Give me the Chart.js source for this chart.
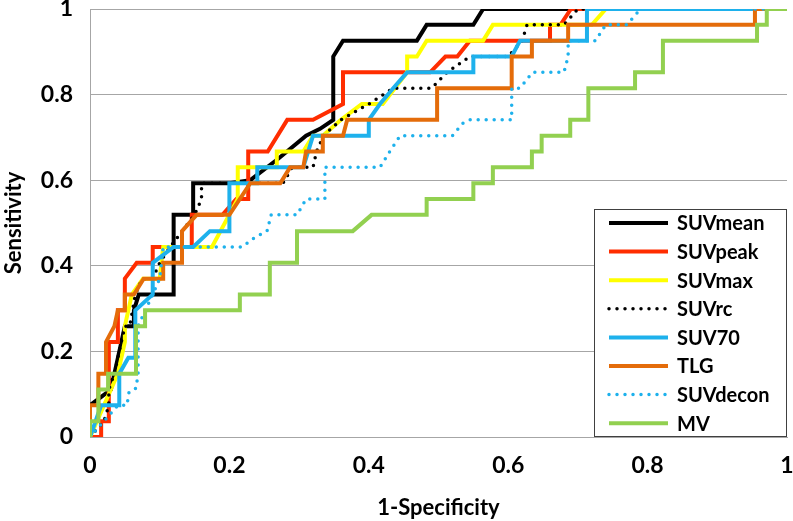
<!DOCTYPE html>
<html>
<head>
<meta charset="utf-8">
<script src="https://cdn.jsdelivr.net/npm/chart.js@4"></script>
<style>
  body { margin: 0; background: #fff; }
  #roc { display: block; }
</style>
</head>
<body>
<canvas id="roc" width="793" height="521"></canvas>
<script>
// curve names, in legend order
const seriesNames = ['SUVmean', 'SUVpeak', 'SUVmax', 'SUVrc', 'SUV70', 'TLG', 'SUVdecon', 'MV'];
const xTicks = [0, 0.2, 0.4, 0.6, 0.8, 1];
const yTicks = [0, 0.2, 0.4, 0.6, 0.8, 1];

// 1-specificity / sensitivity pairs
const suvmeanX = [0, 0, 0.03, 0.04, 0.05, 0.063, 0.063, 0.07, 0.12, 0.12, 0.148, 0.148, 0.2, 0.23, 0.27, 0.31, 0.33, 0.349, 0.349, 0.363, 0.469, 0.483, 0.55, 0.564, 1];
const suvmeanY = [0, 0.074, 0.111, 0.185, 0.259, 0.259, 0.296, 0.333, 0.333, 0.519, 0.519, 0.593, 0.593, 0.6, 0.65, 0.704, 0.72, 0.741, 0.889, 0.926, 0.926, 0.963, 0.963, 1, 1];

const suvpeakX = [0, 0.016, 0.016, 0.027, 0.027, 0.04, 0.04, 0.05, 0.05, 0.067, 0.09, 0.09, 0.146, 0.146, 0.19, 0.21, 0.227, 0.227, 0.255, 0.283, 0.32, 0.363, 0.363, 0.488, 0.51, 0.527, 0.545, 0.66, 0.66, 0.675, 0.69, 1];
const suvpeakY = [0, 0, 0.037, 0.037, 0.222, 0.222, 0.296, 0.296, 0.37, 0.407, 0.407, 0.444, 0.444, 0.519, 0.519, 0.556, 0.556, 0.667, 0.667, 0.741, 0.741, 0.778, 0.852, 0.852, 0.889, 0.889, 0.926, 0.926, 0.963, 0.963, 1, 1];

const suvmaxX = [0, 0.02, 0.03, 0.04, 0.05, 0.05, 0.06, 0.076, 0.1, 0.105, 0.175, 0.212, 0.212, 0.268, 0.268, 0.306, 0.32, 0.334, 0.36, 0.39, 0.42, 0.455, 0.455, 0.469, 0.483, 0.564, 0.578, 0.72, 0.74, 1];
const suvmaxY = [0, 0.074, 0.111, 0.148, 0.222, 0.259, 0.333, 0.37, 0.37, 0.444, 0.444, 0.556, 0.63, 0.63, 0.667, 0.667, 0.704, 0.704, 0.741, 0.778, 0.778, 0.852, 0.889, 0.889, 0.926, 0.926, 0.963, 0.963, 1, 1];

const suvrcX = [0, 0.02, 0.027, 0.027, 0.035, 0.04, 0.05, 0.057, 0.065, 0.075, 0.09, 0.1, 0.115, 0.15, 0.16, 0.16, 0.277, 0.29, 0.32, 0.325, 0.335, 0.36, 0.4, 0.435, 0.49, 0.512, 0.545, 0.6, 0.62, 0.627, 0.68, 0.7, 1];
const suvrcY = [0, 0.037, 0.074, 0.111, 0.148, 0.185, 0.259, 0.259, 0.333, 0.37, 0.37, 0.407, 0.444, 0.519, 0.556, 0.593, 0.593, 0.63, 0.63, 0.667, 0.704, 0.741, 0.778, 0.815, 0.815, 0.852, 0.889, 0.889, 0.926, 0.963, 0.963, 1, 1];

const suv70X = [0, 0.016, 0.042, 0.042, 0.055, 0.065, 0.065, 0.09, 0.09, 0.12, 0.148, 0.172, 0.2, 0.2, 0.24, 0.24, 0.306, 0.32, 0.4, 0.4, 0.416, 0.435, 0.455, 0.55, 0.55, 0.605, 0.617, 0.713, 0.713, 1];
const suv70Y = [0, 0.074, 0.074, 0.148, 0.185, 0.185, 0.296, 0.333, 0.407, 0.444, 0.444, 0.481, 0.481, 0.593, 0.593, 0.63, 0.63, 0.704, 0.704, 0.741, 0.778, 0.815, 0.852, 0.852, 0.889, 0.889, 0.926, 0.926, 1, 1];

const tlgX = [0, 0, 0.012, 0.012, 0.023, 0.023, 0.035, 0.04, 0.05, 0.05, 0.063, 0.077, 0.105, 0.105, 0.132, 0.132, 0.153, 0.2, 0.23, 0.273, 0.287, 0.306, 0.31, 0.334, 0.334, 0.363, 0.369, 0.498, 0.498, 0.605, 0.605, 0.634, 0.634, 0.686, 0.686, 0.954, 0.954, 1];
const tlgY = [0, 0.074, 0.074, 0.148, 0.148, 0.222, 0.259, 0.296, 0.296, 0.333, 0.333, 0.37, 0.37, 0.407, 0.407, 0.481, 0.519, 0.519, 0.593, 0.593, 0.63, 0.63, 0.667, 0.667, 0.704, 0.704, 0.741, 0.741, 0.815, 0.815, 0.889, 0.889, 0.926, 0.926, 0.963, 0.963, 1, 1];

const suvdeconX = [0, 0.04, 0.053, 0.056, 0.066, 0.069, 0.069, 0.09, 0.1, 0.105, 0.218, 0.237, 0.254, 0.26, 0.297, 0.31, 0.337, 0.337, 0.416, 0.43, 0.445, 0.52, 0.535, 0.545, 0.605, 0.605, 0.617, 0.635, 0.68, 0.686, 0.686, 0.725, 0.74, 0.77, 0.79, 1];
const suvdeconY = [0, 0.074, 0.074, 0.105, 0.114, 0.148, 0.259, 0.333, 0.37, 0.444, 0.444, 0.467, 0.481, 0.519, 0.519, 0.556, 0.556, 0.63, 0.63, 0.667, 0.704, 0.704, 0.733, 0.741, 0.741, 0.815, 0.815, 0.852, 0.852, 0.889, 0.926, 0.926, 0.963, 0.963, 1, 1];

const mvX = [0, 0, 0.012, 0.012, 0.026, 0.026, 0.066, 0.066, 0.079, 0.079, 0.215, 0.215, 0.258, 0.258, 0.297, 0.297, 0.377, 0.404, 0.483, 0.483, 0.55, 0.55, 0.578, 0.578, 0.634, 0.634, 0.648, 0.648, 0.689, 0.689, 0.715, 0.715, 0.782, 0.782, 0.822, 0.822, 0.957, 0.957, 0.971, 0.971, 1];
const mvY = [0, 0.037, 0.037, 0.111, 0.111, 0.148, 0.148, 0.259, 0.259, 0.296, 0.296, 0.333, 0.333, 0.407, 0.407, 0.481, 0.481, 0.519, 0.519, 0.556, 0.556, 0.593, 0.593, 0.63, 0.63, 0.667, 0.667, 0.704, 0.704, 0.741, 0.741, 0.815, 0.815, 0.852, 0.852, 0.926, 0.926, 0.963, 0.963, 1, 1];

const allX = [suvmeanX, suvpeakX, suvmaxX, suvrcX, suv70X, tlgX, suvdeconX, mvX];
const allY = [suvmeanY, suvpeakY, suvmaxY, suvrcY, suv70Y, tlgY, suvdeconY, mvY];

const colors = ['#000000', '#FF2D00', '#FFFF00', '#000000', '#1EB1EC', '#E46C0A', '#1EB1EC', '#92D050'];
const dotted = [false, false, false, true, false, false, true, false];

const FONT = "Lato, 'Open Sans', sans-serif";

const datasets = seriesNames.map((name, i) => ({
    label: name,
    data: allX[i].map((x, j) => ({ x: x, y: allY[i][j] })),
    borderColor: colors[i],
    backgroundColor: colors[i],
    borderWidth: dotted[i] ? 3.5 : 4,
    borderDash: dotted[i] ? [0, 8] : [],
    borderCapStyle: dotted[i] ? 'round' : 'butt',
    borderJoinStyle: 'miter',
    pointRadius: 0,
    tension: 0,
    fill: false,
    order: seriesNames.length - i // later series drawn on top, like the original
}));

// legend box sitting inside the plot, lower right
const boxLegend = {
    id: 'boxLegend',
    afterDraw(chart) {
        const ctx = chart.ctx;
        const left = 594, top = 209, right = 787, bottom = 437;
        ctx.save();
        ctx.fillStyle = '#ffffff';
        ctx.fillRect(left, top, right - left, bottom - top);
        ctx.strokeStyle = '#404040';
        ctx.lineWidth = 1;
        ctx.strokeRect(left + 0.5, top + 0.5, right - left - 1, bottom - top - 1);
        ctx.font = "bold 20px " + FONT;
        ctx.textBaseline = 'middle';
        ctx.fillStyle = '#000';
        chart.data.datasets.forEach((ds, i) => {
            const y = 223 + i * 28.6;
            ctx.beginPath();
            ctx.strokeStyle = ds.borderColor;
            ctx.lineWidth = ds.borderWidth;
            ctx.lineCap = ds.borderCapStyle;
            ctx.setLineDash(ds.borderDash);
            ctx.moveTo(609, y);
            ctx.lineTo(668, y);
            ctx.stroke();
            ctx.setLineDash([]);
            ctx.fillText(ds.label, 677, y + 1);
        });
        ctx.restore();
    }
};

const fmt = v => String(Math.round(v * 10) / 10);

new Chart(document.getElementById('roc').getContext('2d'), {
    type: 'line',
    data: { datasets: datasets },
    options: {
        responsive: false,
        animation: false,
        layout: { padding: { top: 9, right: 6, left: 0, bottom: 0 } },
        plugins: {
            legend: { display: false },
            tooltip: { enabled: false }
        },
        scales: {
            x: {
                type: 'linear',
                min: 0,
                max: 1,
                afterBuildTicks: s => { s.ticks = xTicks.map(v => ({ value: v })); },
                afterFit: s => { s.height = 84; s.paddingLeft = 0; s.paddingRight = 0; },
                grid: { display: false, drawTicks: false },
                border: { display: true, color: '#A6A6A6', width: 1 },
                ticks: {
                    padding: 15,
                    maxRotation: 0,
                    color: '#000',
                    font: { family: FONT, size: 23, weight: 'bold' },
                    callback: v => fmt(v)
                },
                title: {
                    display: true,
                    text: '1-Specificity',
                    color: '#000',
                    font: { family: FONT, size: 22, weight: 'bold' },
                    padding: { top: 0, bottom: 0 }
                }
            },
            y: {
                type: 'linear',
                min: 0,
                max: 1,
                afterBuildTicks: s => { s.ticks = yTicks.map(v => ({ value: v })); },
                afterFit: s => { s.width = 90; s.paddingTop = 0; s.paddingBottom = 0; },
                grid: { color: '#A6A6A6', lineWidth: 1, drawTicks: false },
                border: { display: true, color: '#A6A6A6', width: 1 },
                ticks: {
                    padding: 17,
                    color: '#000',
                    font: { family: FONT, size: 23, weight: 'bold' },
                    callback: v => fmt(v)
                },
                title: {
                    display: true,
                    text: 'Sensitivity',
                    color: '#000',
                    font: { family: FONT, size: 22, weight: 'bold' },
                    padding: { top: 1, bottom: 0 }
                }
            }
        }
    },
    plugins: [boxLegend]
});
</script>
</body>
</html>
